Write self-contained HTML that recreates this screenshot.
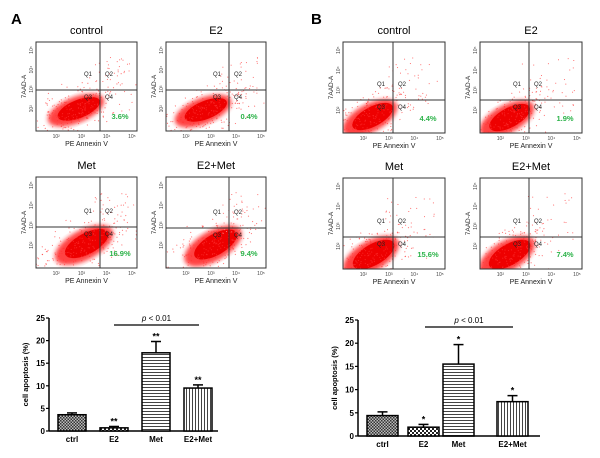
<!DOCTYPE html>
<html><head><meta charset="utf-8"><style>
body{margin:0;background:#fff}
svg{display:block;font-family:"Liberation Sans",sans-serif}
</style></head><body>
<svg id="fig" width="600" height="458" viewBox="0 0 600 458">
<defs>
<pattern id="pCheck" width="3" height="3" patternUnits="userSpaceOnUse"><rect width="3" height="3" fill="#bbb"/><rect width="1.5" height="1.5" fill="#333"/><rect x="1.5" y="1.5" width="1.5" height="1.5" fill="#333"/></pattern>
<pattern id="pCheck2" width="4" height="4" patternUnits="userSpaceOnUse"><rect width="4" height="4" fill="#fff"/><rect width="2" height="2" fill="#222"/><rect x="2" y="2" width="2" height="2" fill="#222"/></pattern>
<pattern id="pH" width="4" height="3" patternUnits="userSpaceOnUse"><rect width="4" height="3" fill="#fff"/><rect width="4" height="1" fill="#444"/></pattern>
<pattern id="pV" width="3" height="4" patternUnits="userSpaceOnUse"><rect width="3" height="4" fill="#fff"/><rect width="1" height="4" fill="#444"/></pattern>
<filter id="blur"><feGaussianBlur stdDeviation="2"/></filter>
</defs>
<text x="11" y="24" font-size="15" font-weight="bold">A</text>
<text x="311" y="24" font-size="15" font-weight="bold">B</text>
<g id="flows"></g>
<g id="barsA"></g>
<g id="barsB"></g>
</svg>
<script>
const NS="http://www.w3.org/2000/svg";
function el(tag,attrs,parent,txt){const e=document.createElementNS(NS,tag);for(const k in attrs)e.setAttribute(k,attrs[k]);if(txt!==undefined)e.textContent=txt;parent.appendChild(e);return e;}

// ---- Flow cytometry plots ----
const flowTitles=["control","E2","Met","E2+Met","control","E2","Met","E2+Met"];
const flowPercents=["3.6%","0.4%","16.9%","9.4%","4.4%","1.9%","15.6%","7.4%"];
const flowBoxes=[[36,42,137,131,100,90],[166,42,266,131,229,90],[36,177,137,268,100,227],[166,177,266,268,229,228],
[343,42,445,133,393,100],[480,42,582,133,529,100],[343,178,445,269,393,237],[480,178,582,269,529,237]];
const clouds=[[76,110,30,13,-22],[203,111,30,13,-22],[84,245,32,15,-28],[213,246,32,15,-30],
[370,118,30,14,-28],[507,119,30,14,-28],[371,256,31,15,-30],[507,256,31,15,-30]];
let seed=12345;function rnd(){seed=(seed*1103515245+12345)%2147483648;return seed/2147483648;}
function gauss(){return (rnd()+rnd()+rnd()-1.5)/0.5;}
const fg=document.getElementById('flows');
const defs=document.querySelector('defs');
flowBoxes.forEach((b,i)=>{
  const [x0,y0,x1,y1,gx,gy]=b;
  const cp=el('clipPath',{id:'clip'+i},defs);
  el('rect',{x:x0,y:y0,width:x1-x0,height:y1-y0},cp);
  const g=el('g',{},fg);
  
  
  const t=el('text',{x:(x0+x1)/2,y:y0-8,'font-size':11,'text-anchor':'middle'},g,flowTitles[i]);
  
  
  const c=clouds[i];
  const clipG=el('g',{'clip-path':`url(#clip${i})`},g);
  const cg=el('g',{transform:`rotate(${c[4]} ${c[0]} ${c[1]})`},clipG);
  el('ellipse',{cx:c[0],cy:c[1],rx:c[2],ry:c[3],fill:'#f22',opacity:0.85,filter:'url(#blur)'},cg);
  el('ellipse',{cx:c[0]+3,cy:c[1],rx:c[2]*0.75,ry:c[3]*0.7,fill:'#e00'},cg);
  for(let k=0;k<220;k++){
    let dx=gauss()*c[2]*0.8,dy=gauss()*c[3]*0.8;
    el('rect',{x:c[0]+dx,y:c[1]+dy,width:1,height:1,fill:'#f33',opacity:0.7},cg);
  }
  for(let k=0;k<30;k++){
    const px=gx-8+rnd()*(x1-gx),py=y0+15+rnd()*(gy-y0-10);
    el('rect',{x:px,y:py,width:1,height:1,fill:'#f77'},clipG);
  }
  el('rect',{x:x0,y:y0,width:x1-x0,height:y1-y0,fill:'none',stroke:'#333','stroke-width':1},g);
  el('line',{x1:gx,y1:y0,x2:gx,y2:y1,stroke:'#333','stroke-width':1},g);
  el('line',{x1:x0,y1:gy,x2:x1,y2:gy,stroke:'#333','stroke-width':1},g);
  const q=[['Q1',gx-12,gy-14],['Q2',gx+9,gy-14],['Q3',gx-12,gy+9],['Q4',gx+9,gy+9]];
  q.forEach(a=>el('text',{x:a[1],y:a[2],'font-size':6,'text-anchor':'middle',fill:'#222'},g,a[0]));
  const p=el('text',{x:x1-17,y:y1-12,'font-size':7.5,'font-weight':'bold','text-anchor':'middle',fill:'#2db34a'},g,flowPercents[i]);
  
  
  const w=x1-x0;
  ['10²','10³','10⁴','10⁵'].forEach((s,k)=>el('text',{x:x0+w*(0.2+k*0.25),y:y1+7,'font-size':5,'text-anchor':'middle',fill:'#444'},g,s));
  el('text',{x:(x0+x1)/2,y:y1+15,'font-size':7,'text-anchor':'middle',fill:'#222'},g,'PE Annexin V');
  el('text',{x:0,y:0,'font-size':6.5,'text-anchor':'middle',fill:'#222',transform:`translate(${x0-10} ${(y0+y1)/2}) rotate(-90)`},g,'7AAD-A');
  ['10²','10³','10⁴','10⁵'].forEach((s,k)=>el('text',{x:0,y:0,'font-size':5,'text-anchor':'middle',fill:'#444',transform:`translate(${x0-3} ${y1-(y1-y0)*(0.25+k*0.22)}) rotate(-90)`},g,s));
});

// ---- Bar charts ----
const categories=["ctrl","E2","Met","E2+Met"];
const valuesA=[3.6,0.7,17.3,9.5];
const errorsA=[0.4,0.3,2.5,0.7];
const starsA=["","**","**","**"];
const valuesB=[4.4,1.9,15.5,7.4];
const errorsB=[0.8,0.6,4.2,1.3];
const starsB=["","*","*","*"];
const yTicks=[0,5,10,15,20,25];
const fills=['url(#pCheck)','url(#pCheck2)','url(#pH)','url(#pV)'];

function barChart(gid,cfg,vals,errs,stars){
  const g=document.getElementById(gid);
  
  
  const y=v=>cfg.y0-(cfg.y0-cfg.y25)*v/25;
  el('line',{x1:cfg.ax,y1:cfg.y25,x2:cfg.ax,y2:cfg.y0,stroke:'#000','stroke-width':1.5},g);
  el('line',{x1:cfg.ax,y1:cfg.y0,x2:cfg.axEnd,y2:cfg.y0,stroke:'#000','stroke-width':1.5},g);
  yTicks.forEach(t=>{
    el('line',{x1:cfg.ax-3,y1:y(t),x2:cfg.ax,y2:y(t),stroke:'#000','stroke-width':1.2},g);
    el('text',{x:cfg.ax-4,y:y(t)+3,'font-size':8,'font-weight':'bold','text-anchor':'end'},g,t);
  });
  el('text',{x:0,y:0,'font-size':7.5,'font-weight':'bold','text-anchor':'middle',transform:`translate(${cfg.ax-21} ${(cfg.y0+cfg.y25)/2}) rotate(-90)`},g,'cell apoptosis (%)');
  vals.forEach((v,i)=>{
    const x0=cfg.bx[i],bw=cfg.bw,cx=x0+bw/2;
    const r=el('rect',{x:x0,y:y(v),width:bw,height:cfg.y0-y(v),fill:fills[i],stroke:'#000','stroke-width':1.5},g);
    
    
    const ye=y(v+errs[i]);
    el('line',{x1:cx,y1:y(v),x2:cx,y2:ye,stroke:'#000','stroke-width':1.5},g);
    el('line',{x1:cx-5,y1:ye,x2:cx+5,y2:ye,stroke:'#000','stroke-width':1.5},g);
    if(stars[i])el('text',{x:cx,y:ye-2,'font-size':9,'font-weight':'bold','text-anchor':'middle'},g,stars[i]);
    el('text',{x:cx,y:cfg.y0+11,'font-size':8,'font-weight':'bold','text-anchor':'middle'},g,categories[i]);
  });
  el('line',{x1:cfg.px[0],y1:cfg.py,x2:cfg.px[1],y2:cfg.py,stroke:'#000','stroke-width':1.3},g);
  const pt=el('text',{x:(cfg.px[0]+cfg.px[1])/2,y:cfg.py-4,'font-size':8,'text-anchor':'middle'},g);
  el('tspan',{'font-style':'italic'},pt,'p');
  el('tspan',{},pt,' < 0.01');
}
barChart('barsA',{ax:49,axEnd:218,y0:431,y25:318,bx:[58,100,142,184],bw:28,px:[114,199],py:325},valuesA,errorsA,starsA);
barChart('barsB',{ax:358,axEnd:540,y0:436,y25:320,bx:[367,408,443,497],bw:31,px:[425,513],py:327},valuesB,errorsB,starsB);
</script>
</body></html>
